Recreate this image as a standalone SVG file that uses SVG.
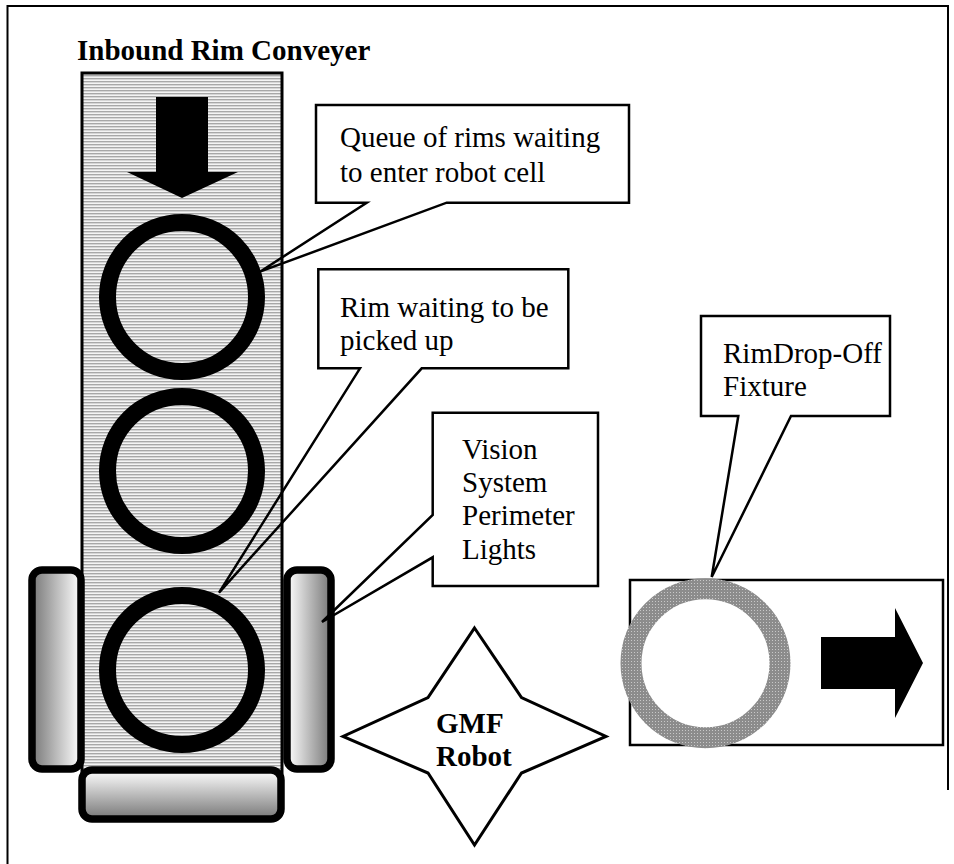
<svg xmlns="http://www.w3.org/2000/svg" width="954" height="864" viewBox="0 0 954 864">
  <defs>
    <style>
      .label { font-family: "Liberation Serif", "Times New Roman", serif; font-size: 29px; fill: #000; }
      .bold { font-weight: bold; }
      .callout { fill: none; stroke: #000; stroke-width: 2.5; stroke-linejoin: miter; }
      .box { fill: #fff; stroke: none; }
      .rim { fill: none; stroke: #000; stroke-width: 17; }
      .light { stroke: #000; stroke-width: 7.5; }
    </style>
    <!-- horizontal belt stripes -->
    <pattern id="belt" width="4" height="3" patternUnits="userSpaceOnUse">
      <rect width="4" height="3" fill="#f4f4f4"/>
      <rect y="0" width="4" height="1" fill="#a8a8a8"/>
      <rect y="1" width="4" height="1" fill="#d6d6d6"/>
    </pattern>
    <!-- stippled grey for the fixture ring -->
    <pattern id="dots" width="3" height="3" patternUnits="userSpaceOnUse">
      <rect width="3" height="3" fill="#8c8c8c"/>
      <rect x="1" y="1" width="1" height="1" fill="#c8c8c8"/>
    </pattern>
    <linearGradient id="shadeL" x1="0" y1="0" x2="1" y2="0">
      <stop offset="0" stop-color="#777"/>
      <stop offset="1" stop-color="#fff"/>
    </linearGradient>
    <linearGradient id="shadeR" x1="0" y1="0" x2="1" y2="0">
      <stop offset="0" stop-color="#fff"/>
      <stop offset="1" stop-color="#777"/>
    </linearGradient>
    <linearGradient id="shadeB" x1="0" y1="0" x2="0" y2="1">
      <stop offset="0" stop-color="#fff"/>
      <stop offset="1" stop-color="#777"/>
    </linearGradient>
  </defs>

  <rect width="954" height="864" fill="#fff"/>

  <!-- outer frame -->
  <path d="M7.5,864 V6 H948 V790" fill="none" stroke="#000" stroke-width="2"/>

  <text class="label bold" x="77" y="60" font-family="Liberation Serif, serif">Inbound Rim Conveyer</text>

  <g id="conveyor">
    <rect x="82" y="73" width="200" height="700" fill="url(#belt)" stroke="#000" stroke-width="3"/>
    <polygon points="156,97 208,97 208,172 238,172 182,198 127,172 156,172" fill="#000"/>
  </g>

  <g id="rim-queue-1"><circle class="rim" cx="182" cy="297" r="74.5"/></g>
  <g id="rim-queue-2"><circle class="rim" cx="182" cy="471" r="74.5"/></g>
  <g id="rim-pickup"><circle class="rim" cx="182" cy="670" r="74.5"/></g>

  <g id="lights">
    <rect class="light" x="32" y="570" width="49" height="199" rx="10" fill="url(#shadeL)"/>
    <rect class="light" x="287" y="570" width="44" height="199" rx="10" fill="url(#shadeR)"/>
    <rect class="light" x="82" y="770" width="199" height="49" rx="10" fill="url(#shadeB)"/>
  </g>

  <g id="robot">
    <polygon points="474.5,628 521.5,697.5 606,736.5 521.5,773 474.5,845 428,773 343,736.5 428,697.5" fill="#fff" stroke="#000" stroke-width="3"/>
    <text class="label bold" x="436" y="733">GMF</text>
    <text class="label bold" x="436" y="766">Robot</text>
  </g>

  <g id="dropoff-fixture">
    <rect x="630" y="580" width="313" height="165" fill="#fff" stroke="#000" stroke-width="2.5"/>
    <circle cx="705.5" cy="663.3" r="74.5" fill="none" stroke="url(#dots)" stroke-width="21"/>
    <polygon points="821,637 895,637 895,608 923,663 895,718 895,689 821,689" fill="#000"/>
  </g>

  <g id="callouts" font-family="Liberation Serif, serif">
    <g id="callout-queue">
      <rect class="box" x="316" y="105" width="313" height="98"/>
      <path class="callout" d="M366.7,202.7 H316 V105 H629 V202.7 H446.7 L260,271.7 Z"/>
      <text class="label" x="340" y="147">Queue of rims waiting</text>
      <text class="label" x="340" y="182">to enter robot cell</text>
    </g>
    <g id="callout-pickup">
      <rect class="box" x="318" y="269" width="250" height="99"/>
      <path class="callout" d="M360,368.3 H318.3 V269.3 H568.3 V368.3 H421.7 L219,592.7 Z"/>
      <text class="label" x="340" y="317">Rim waiting to be</text>
      <text class="label" x="340" y="350">picked up</text>
    </g>
    <g id="callout-lights">
      <rect class="box" x="433" y="413" width="165" height="173"/>
      <path class="callout" d="M432.7,515 V412.7 H598 V586 H432.7 V557.3 L322,622 Z"/>
      <text class="label" x="462" y="459">Vision</text>
      <text class="label" x="462" y="492">System</text>
      <text class="label" x="462" y="525">Perimeter</text>
      <text class="label" x="462" y="559">Lights</text>
    </g>
    <g id="callout-fixture">
      <rect class="box" x="701" y="316" width="189" height="100"/>
      <path class="callout" d="M738.3,416 H701 V316 H890 V416 H791 L711.7,577 Z"/>
      <text class="label" x="723" y="363">RimDrop-Off</text>
      <text class="label" x="723" y="396">Fixture</text>
    </g>
  </g>
</svg>
